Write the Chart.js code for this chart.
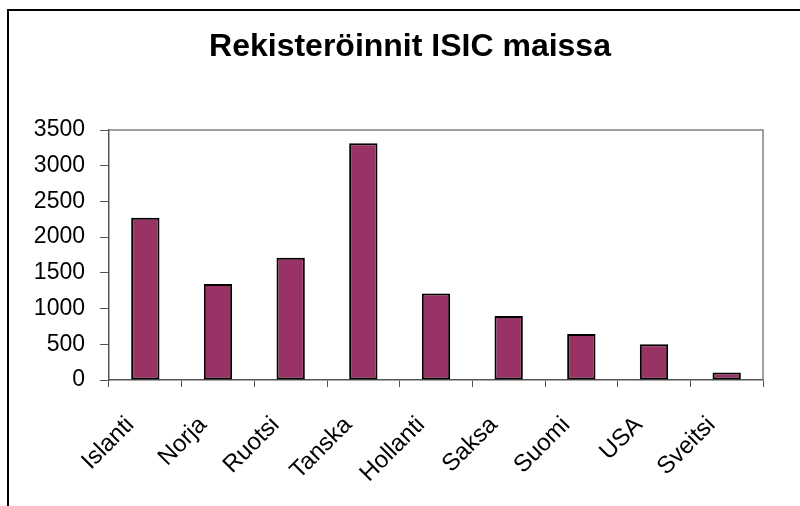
<!DOCTYPE html>
<html>
<head>
<meta charset="utf-8">
<script src="https://cdn.jsdelivr.net/npm/chart.js@4"></script>
<style>
    html, body { margin: 0; padding: 0; background: #fff; }
    #wrap { width: 800px; height: 506px; }
</style>
</head>
<body>
<div id="wrap"><canvas id="myChart" width="800" height="506"></canvas></div>
<script>
const maat = ['Islanti', 'Norja', 'Ruotsi', 'Tanska', 'Hollanti', 'Saksa', 'Suomi', 'USA', 'Sveitsi'];
const rekisteroinnit = [2270, 1345, 1710, 3315, 1210, 895, 645, 500, 105];
const yTicks = [0, 500, 1000, 1500, 2000, 2500, 3000, 3500];
const otsikko = 'Rekisteröinnit ISIC maissa';

// kehys ja kuva-alueen harmaa reunus
const kehys = {
    id: 'kehys',
    afterLayout(chart) {
        // otsikko keskelle kehyksen sisällä
        chart.titleBlock.left = 57;
        chart.titleBlock.right = 763;
    },
    afterDraw(chart) {
        let ctx = chart.ctx;
        let a = chart.chartArea;
        ctx.save();
        ctx.strokeStyle = '#808080';
        ctx.lineWidth = 1.5;
        ctx.beginPath();
        ctx.moveTo(a.left, a.top);
        ctx.lineTo(a.right, a.top);
        ctx.lineTo(a.right, a.bottom);
        ctx.stroke();
        ctx.strokeStyle = '#000';
        ctx.lineWidth = 2;
        ctx.beginPath();
        ctx.moveTo(8, 520);
        ctx.lineTo(8, 10);
        ctx.lineTo(810, 10);
        ctx.stroke();
        ctx.restore();
    }
};

let ctx = document.getElementById('myChart').getContext('2d');
let chart = new Chart(ctx, {
    type: 'bar',
    data: {
        labels: maat,
        datasets: [{
            label: 'Rekisteröinnit',
            data: rekisteroinnit,
            backgroundColor: '#993366',
            borderColor: '#000000',
            borderWidth: 2,
            borderSkipped: false,
            categoryPercentage: 1,
            barPercentage: 0.39
        }]
    },
    options: {
        responsive: false,
        animation: false,
        devicePixelRatio: 1,
        layout: {
            padding: { top: 10, left: 0, right: 37, bottom: 0 }
        },
        plugins: {
            legend: { display: false },
            tooltip: { enabled: false },
            title: {
                display: true,
                text: otsikko,
                color: '#000',
                font: { family: 'Liberation Sans', size: 32, weight: 'bold' },
                padding: { top: 18, bottom: 63.6 }
            }
        },
        scales: {
            x: {
                grid: {
                    drawOnChartArea: false,
                    drawTicks: true,
                    tickLength: 7,
                    color: '#555',
                    offset: true
                },
                border: { color: '#555', width: 1.5 },
                ticks: {
                    color: '#000',
                    autoSkip: false,
                    minRotation: 45,
                    maxRotation: 45,
                    padding: 24,
                    labelOffset: -15,
                    font: { family: 'Liberation Sans', size: 24 }
                },
                afterFit: function(scale) { scale.height = 126; }
            },
            y: {
                min: 0,
                max: 3500,
                afterBuildTicks: function(scale) {
                    scale.ticks = yTicks.map(v => ({ value: v }));
                },
                grid: {
                    drawOnChartArea: false,
                    drawTicks: true,
                    tickLength: 9,
                    color: '#555'
                },
                border: { color: '#555', width: 1.5 },
                ticks: {
                    color: '#000',
                    padding: 15,
                    font: { family: 'Liberation Sans', size: 23 },
                    callback: function(value) { return String(value); }
                },
                afterFit: function(scale) { scale.width = 109; }
            }
        }
    },
    plugins: [kehys]
});
</script>
</body>
</html>
